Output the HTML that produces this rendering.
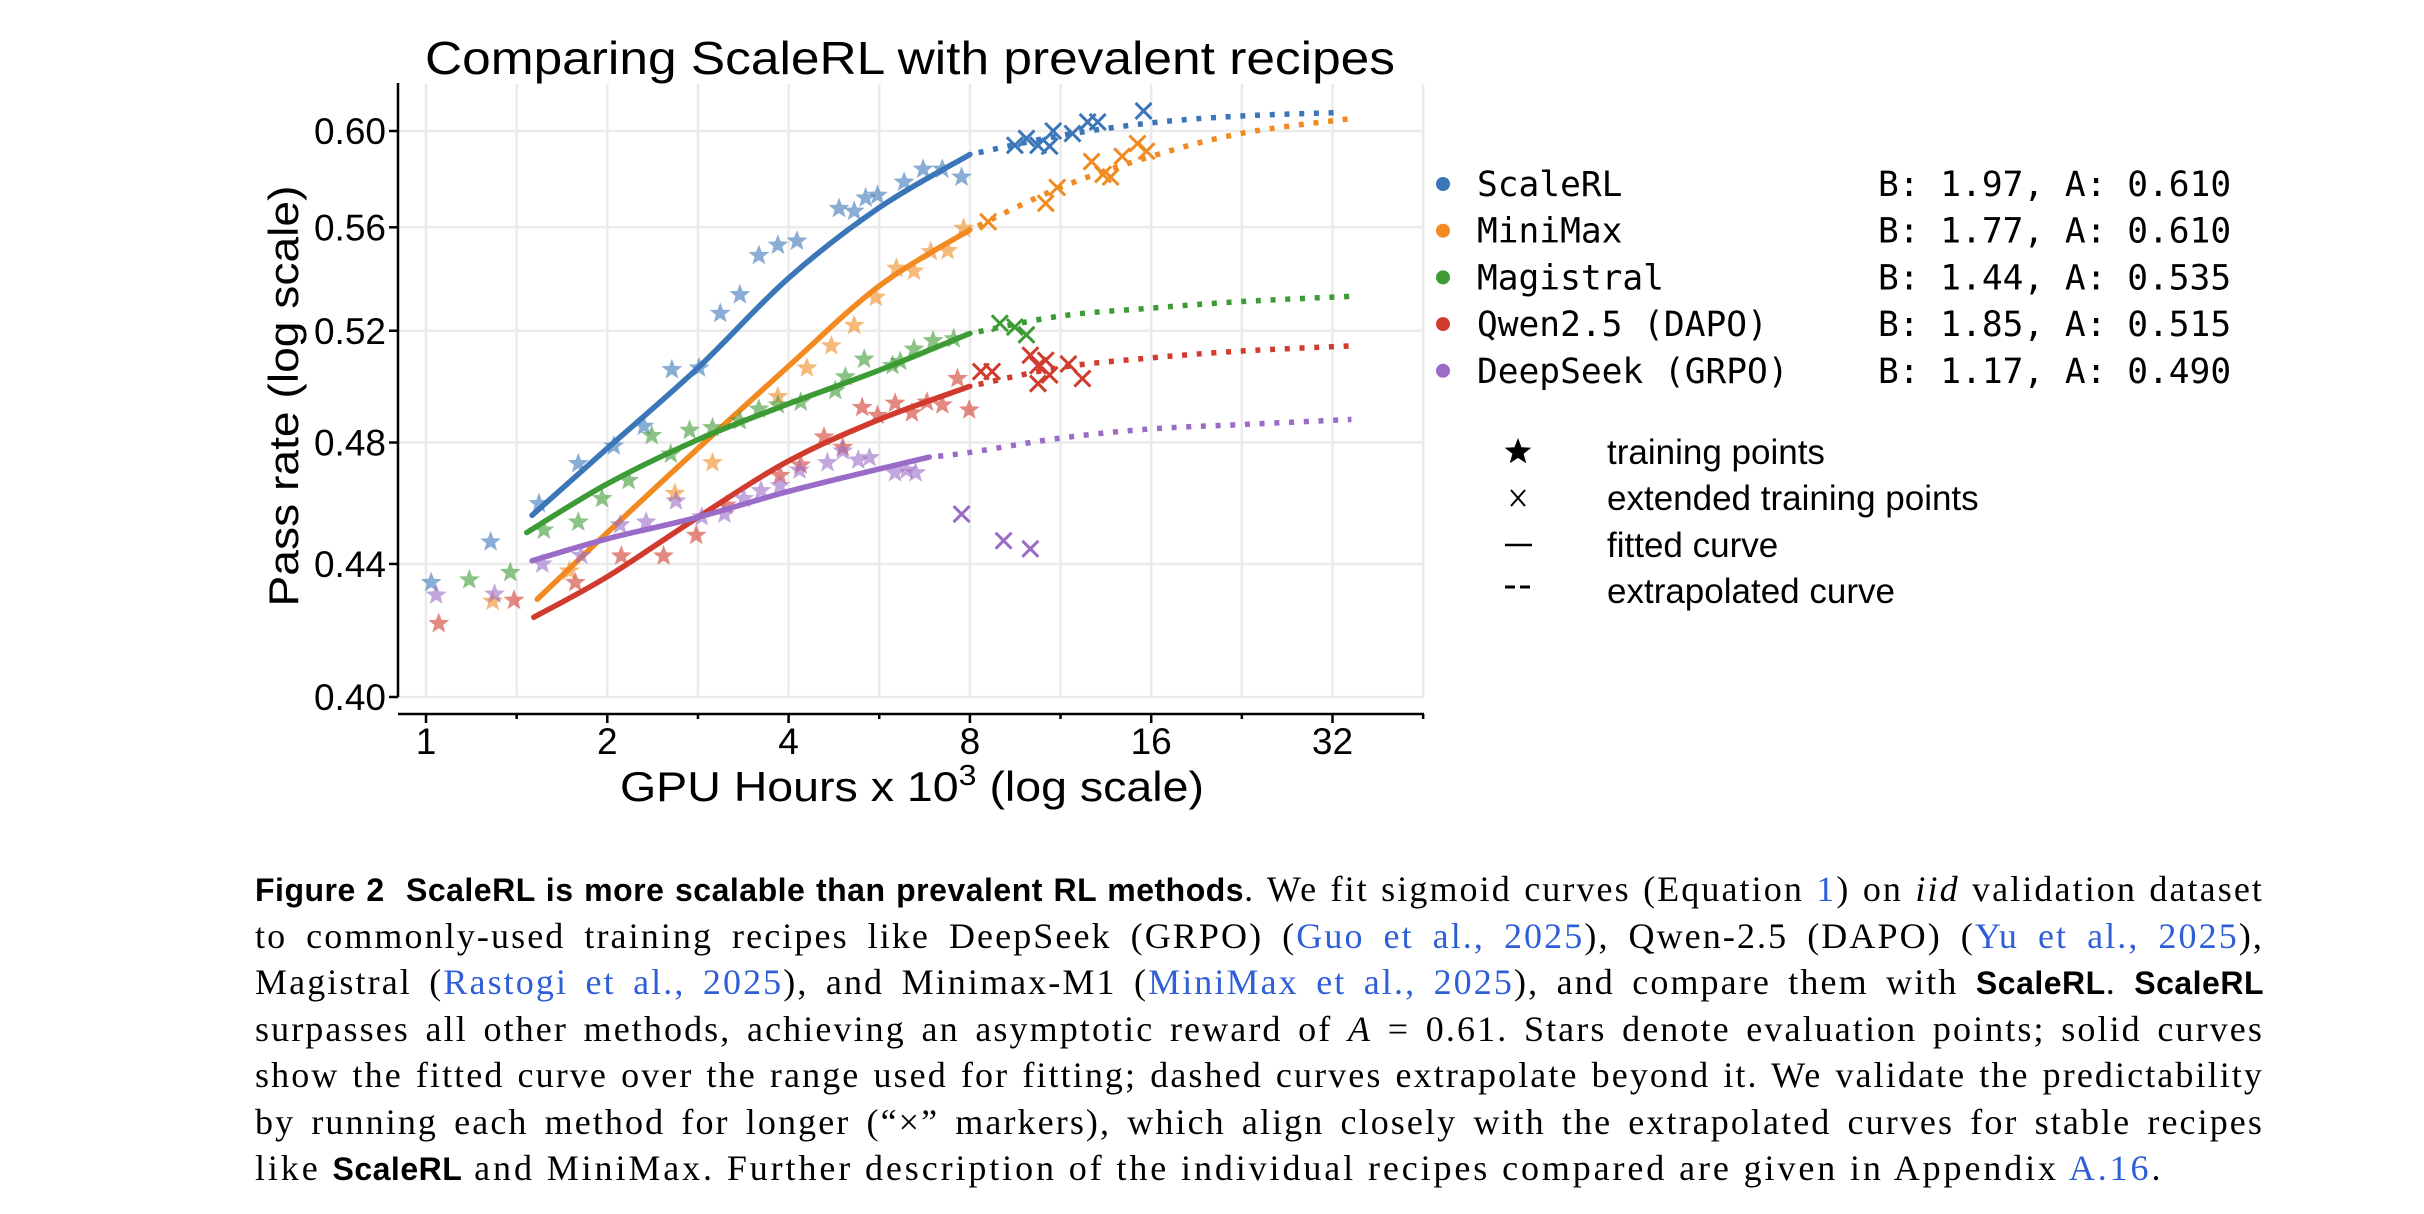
<!DOCTYPE html>
<html><head><meta charset="utf-8">
<style>
html,body{margin:0;padding:0;background:#fff;}
body{width:2424px;height:1214px;position:relative;overflow:hidden;}
svg{position:absolute;left:0;top:0;}
.cap{position:absolute;left:255px;width:2009px;font-family:"Liberation Serif",serif;font-size:36px;letter-spacing:2.1px;line-height:47px;color:#000;white-space:nowrap;}
.j{text-align:justify;text-align-last:justify;}
.last{letter-spacing:2.9px;}
.b{font-family:"Liberation Sans",sans-serif;font-weight:bold;font-size:32px;letter-spacing:0.5px;}
.lk{color:#2f5fd8;}
</style></head>
<body>
<svg id="chart" width="2424" height="860" font-family="Liberation Sans, sans-serif"></svg>
<div>
<div class="cap j" style="top:866px"><span class="b">Figure 2&nbsp;&nbsp;ScaleRL is more scalable than prevalent RL methods</span>. We fit sigmoid curves (Equation <span class="lk">1</span>) on <i>iid</i> validation dataset</div>
<div class="cap j" style="top:913px">to commonly-used training recipes like DeepSeek (GRPO) (<span class="lk">Guo et al., 2025</span>), Qwen-2.5 (DAPO) (<span class="lk">Yu et al., 2025</span>),</div>
<div class="cap j" style="top:959px">Magistral (<span class="lk">Rastogi et al., 2025</span>), and Minimax-M1 (<span class="lk">MiniMax et al., 2025</span>), and compare them with <span class="b">ScaleRL</span>. <span class="b">ScaleRL</span></div>
<div class="cap j" style="top:1006px">surpasses all other methods, achieving an asymptotic reward of <i>A</i> = 0.61. Stars denote evaluation points; solid curves</div>
<div class="cap j" style="top:1052px">show the fitted curve over the range used for fitting; dashed curves extrapolate beyond it. We validate the predictability</div>
<div class="cap j" style="top:1099px">by running each method for longer (“×” markers), which align closely with the extrapolated curves for stable recipes</div>
<div class="cap last" style="top:1145px">like <span class="b">ScaleRL</span> and MiniMax. Further description of the individual recipes compared are given in Appendix <span class="lk">A.16</span>.</div>
</div>
<script>
const seriesNames = ["ScaleRL","MiniMax","Magistral","Qwen2.5 (DAPO)","DeepSeek (GRPO)"];
const seriesParams = ["B: 1.97, A: 0.610","B: 1.77, A: 0.610","B: 1.44, A: 0.535","B: 1.85, A: 0.515","B: 1.17, A: 0.490"];
const xTicks = [1,2,4,8,16,32];
const yTicks = [0.40,0.44,0.48,0.52,0.56,0.60];
// fitted curves (solid) [x, y]
const fitScale = [[1.5,0.4556],[2,0.478],[2.83,0.5064],[4,0.540],[5.66,0.568],[8,0.590]];
const fitMini = [[1.53,0.429],[2,0.450],[2.83,0.478],[4,0.507],[5.66,0.537],[8,0.559]];
const fitMag = [[1.47,0.450],[2,0.466],[2.83,0.481],[4,0.4935],[5.66,0.5055],[8,0.519]];
const fitQwen = [[1.51,0.4235],[2,0.436],[2.83,0.455],[4,0.4737],[5.66,0.488],[8,0.4997]];
const fitDeep = [[1.5,0.441],[2,0.448],[2.83,0.455],[4,0.4635],[5.66,0.471],[6.85,0.475]];
// extrapolated curves (dotted)
const extScale = [[8,0.590],[11.3,0.598],[16,0.6035],[22.6,0.6065],[33,0.608]];
const extMini = [[8,0.559],[11.3,0.5762],[16,0.5892],[22.6,0.599],[34.4,0.6054]];
const extMag = [[8,0.519],[11.3,0.5255],[16,0.5285],[22.6,0.531],[34.4,0.533]];
const extQwen = [[8,0.4997],[11.3,0.5065],[16,0.510],[22.6,0.5125],[34.4,0.5144]];
const extDeep = [[6.85,0.475],[8,0.4766],[11.3,0.4815],[16,0.4847],[22.6,0.4862],[34.4,0.488]];
// training points (stars)
const starScale = [[1.02,0.4342],[1.28,0.447],[1.54,0.4594],[1.79,0.4728],[2.05,0.4788],[2.30,0.4856],[2.56,0.5057],[2.84,0.5063],[3.08,0.5265],[3.32,0.5336],[3.57,0.5488],[3.84,0.5529],[4.13,0.5545],[4.85,0.5676],[5.14,0.5665],[5.37,0.5719],[5.62,0.573],[6.22,0.5784],[6.69,0.5838],[7.20,0.5838],[7.75,0.5805]];
const starMini = [[1.29,0.4284],[1.73,0.4378],[2.59,0.4628],[2.99,0.4731],[3.84,0.496],[4.29,0.5063],[4.71,0.5144],[5.14,0.522],[5.58,0.5326],[6.04,0.5438],[6.46,0.5427],[6.89,0.5503],[7.35,0.5507],[7.81,0.5596]];
const starMag = [[1.18,0.435],[1.38,0.4373],[1.57,0.4508],[1.79,0.4534],[1.96,0.4611],[2.17,0.4671],[2.37,0.4824],[2.55,0.476],[2.74,0.4842],[2.99,0.4851],[3.32,0.4875],[3.57,0.4916],[3.84,0.4931],[4.19,0.4941],[4.78,0.4982],[4.97,0.5031],[5.34,0.5095],[5.95,0.5072],[6.13,0.5087],[6.46,0.5132],[6.95,0.5163],[7.52,0.517]];
const starQwen = [[1.05,0.4216],[1.40,0.4287],[1.77,0.4342],[2.11,0.4425],[2.48,0.4425],[2.81,0.4491],[3.15,0.4589],[3.87,0.4688],[4.19,0.4723],[4.58,0.4819],[4.92,0.4783],[5.30,0.4922],[5.62,0.4894],[6.01,0.4937],[6.41,0.4903],[6.79,0.4941],[7.20,0.4931],[7.63,0.5025],[7.98,0.4913]];
const starDeep = [[1.04,0.4303],[1.30,0.4306],[1.56,0.44],[1.81,0.4427],[2.10,0.4525],[2.32,0.4534],[2.60,0.4603],[2.87,0.4551],[3.13,0.456],[3.37,0.4611],[3.60,0.4637],[3.87,0.4654],[4.17,0.4706],[4.64,0.4731],[4.92,0.4771],[5.22,0.474],[5.45,0.4748],[6.01,0.4697],[6.28,0.4706],[6.50,0.4697]];
// extended training points (x markers)
const crossScale = [[9.5,0.5939],[9.93,0.5968],[10.38,0.5939],[10.85,0.5935],[11.0,0.600],[11.84,0.5989],[12.55,0.6039],[13.04,0.6039],[15.54,0.6087]];
const crossMini = [[8.58,0.5622],[10.69,0.5697],[11.17,0.5762],[12.74,0.587],[13.31,0.5816],[13.7,0.5805],[14.32,0.5892],[15.18,0.5946],[15.72,0.5914]];
const crossMag = [[8.97,0.5228],[9.5,0.5214],[9.93,0.5185]];
const crossQwen = [[8.34,0.505],[8.71,0.505],[10.08,0.511],[10.38,0.5072],[10.38,0.5007],[10.69,0.5091],[10.85,0.5038],[11.66,0.5078],[12.3,0.5025]];
const crossDeep = [[7.75,0.456],[9.1,0.4474],[10.08,0.4448]];

const colors = ["#3a76b8","#f28a22","#3d9b35","#d03b2e","#9a6bc7"];
const fits=[fitScale,fitMini,fitMag,fitQwen,fitDeep];
const exts=[extScale,extMini,extMag,extQwen,extDeep];
const stars=[starScale,starMini,starMag,starQwen,starDeep];
const crosses=[crossScale,crossMini,crossMag,crossQwen,crossDeep];

const X0=426, OCT=181.3, Y0=697, YH=566;
function sx(v){return X0+Math.log2(v)*OCT;}
function sy(v){return Y0-Math.log(v/0.4)/Math.log(1.5)*YH;}
const NS="http://www.w3.org/2000/svg";
const svg=document.getElementById('chart');
function mk(tag,attrs,parent){const e=document.createElementNS(NS,tag);for(const k in attrs)e.setAttribute(k,attrs[k]);(parent||svg).appendChild(e);return e;}

const grid=mk('g',{});


for(let k=0;k<=11;k++){const gx=X0+k*OCT/2;
  const l=mk('line',{x1:gx,x2:gx,y1:84,y2:697,stroke:'#ebebeb','stroke-width':2.5},grid);
  
  }
yTicks.forEach(t=>{const l=mk('line',{x1:398,x2:1424,y1:sy(t),y2:sy(t),stroke:'#ebebeb','stroke-width':2.5},grid);
  
  });

const yax=mk('line',{x1:398,x2:398,y1:83,y2:697,stroke:'#000','stroke-width':2.5});


const xax=mk('line',{x1:398,x2:1424,y1:714,y2:714,stroke:'#000','stroke-width':2.5});


yTicks.forEach(t=>{
  mk('line',{x1:389,x2:398,y1:sy(t),y2:sy(t),stroke:'#000','stroke-width':2.5});
  const tx=mk('text',{x:386,y:sy(t)+13,'text-anchor':'end','font-size':37,fill:'#000'});
  tx.textContent=t.toFixed(2);
  
  
});
for(let k=0;k<=11;k++){const gx=X0+k*OCT/2;
  mk('line',{x1:gx,x2:gx,y1:714,y2:k%2?719:723,stroke:'#000','stroke-width':2.5});}
xTicks.forEach(t=>{
  const tx=mk('text',{x:sx(t),y:754,'text-anchor':'middle','font-size':37,fill:'#000'});
  tx.textContent=String(t);
  
  
});
const title=mk('text',{x:910,y:74,'text-anchor':'middle','font-size':46,fill:'#000',textLength:970,lengthAdjust:'spacingAndGlyphs'});
title.textContent='Comparing ScaleRL with prevalent recipes';


const xl=mk('text',{x:620,y:801,'font-size':42,fill:'#000',textLength:584,lengthAdjust:'spacingAndGlyphs'});
xl.innerHTML='GPU Hours x 10<tspan dy="-16" font-size="29">3</tspan><tspan dy="16"> (log scale)</tspan>';


const yl=mk('text',{x:0,y:0,'text-anchor':'middle','font-size':42,fill:'#000',textLength:421,lengthAdjust:'spacingAndGlyphs',transform:'translate(298,396) rotate(-90)'});
yl.textContent='Pass rate (log scale)';



function pathD(pts){const p=pts.map(d=>[sx(d[0]),sy(d[1])]);let s='M'+p[0][0]+','+p[0][1];
  for(let i=0;i<p.length-1;i++){const a=p[i-1]||p[i],b=p[i],c=p[i+1],d=p[i+2]||c;
    s+=' C'+(b[0]+(c[0]-a[0])/6)+','+(b[1]+(c[1]-a[1])/6)+' '+(c[0]-(d[0]-b[0])/6)+','+(c[1]-(d[1]-b[1])/6)+' '+c[0]+','+c[1];}
  return s;}
function starPts(cx,cy,R){const r=R*0.42;let s=[];for(let i=0;i<10;i++){const a=-Math.PI/2+i*Math.PI/5,rr=i%2?r:R;s.push((cx+rr*Math.cos(a)).toFixed(1)+','+(cy+rr*Math.sin(a)).toFixed(1));}return s.join(' ');}

for(let s=0;s<5;s++){
  const g=mk('g',{});
  
  
  stars[s].forEach(d=>{const p=mk('polygon',{points:starPts(sx(d[0]),sy(d[1]),11),fill:colors[s],'fill-opacity':0.6},g);
    
    });
  crosses[s].forEach(d=>{const cx=sx(d[0]),cy=sy(d[1]),h=8;
    const p=mk('path',{d:`M${cx-h},${cy-h}L${cx+h},${cy+h}M${cx-h},${cy+h}L${cx+h},${cy-h}`,stroke:colors[s],'stroke-width':3,fill:'none'},g);
    
    });
  const f=mk('path',{d:pathD(fits[s]),stroke:colors[s],'stroke-width':5.5,fill:'none','stroke-linecap':'round'},g);
  
  
  const e=mk('path',{d:pathD(exts[s]),stroke:colors[s],'stroke-width':5.5,fill:'none','stroke-dasharray':'5 9.7','stroke-dashoffset':-9},g);
  
  
}

const lg=mk('g',{'font-family':'DejaVu Sans Mono, Liberation Mono, monospace','font-size':34.5});


for(let s=0;s<5;s++){const cy=184+s*46.7;
  const c=mk('circle',{cx:1443,cy:cy,r:7,fill:colors[s]},lg);
  
  
  const t=mk('text',{x:1477,y:cy+12,fill:'#000'},lg);t.textContent=seriesNames[s];
  
  
  const t2=mk('text',{x:1878,y:cy+12,fill:'#000'},lg);t2.textContent=seriesParams[s];
  
  }
const lg2=mk('g',{'font-size':35,fill:'#000'});


const ly=[452,498,545,591];
mk('polygon',{points:starPts(1518,ly[0],14),fill:'#000'},lg2);
mk('path',{d:`M1511,${ly[1]-8}L1525,${ly[1]+8}M1511,${ly[1]+8}L1525,${ly[1]-8}`,stroke:'#000','stroke-width':2,fill:'none'},lg2);
mk('line',{x1:1505,x2:1532,y1:ly[2],y2:ly[2],stroke:'#000','stroke-width':2.5},lg2);
mk('path',{d:`M1505,${ly[3]-4}h10M1520,${ly[3]-4}h10`,stroke:'#000','stroke-width':3},lg2);
['training points','extended training points','fitted curve','extrapolated curve'].forEach((s,i)=>{
  const t=mk('text',{x:1607,y:ly[i]+12},lg2);t.textContent=s;
  
  });
</script>
</body></html>
